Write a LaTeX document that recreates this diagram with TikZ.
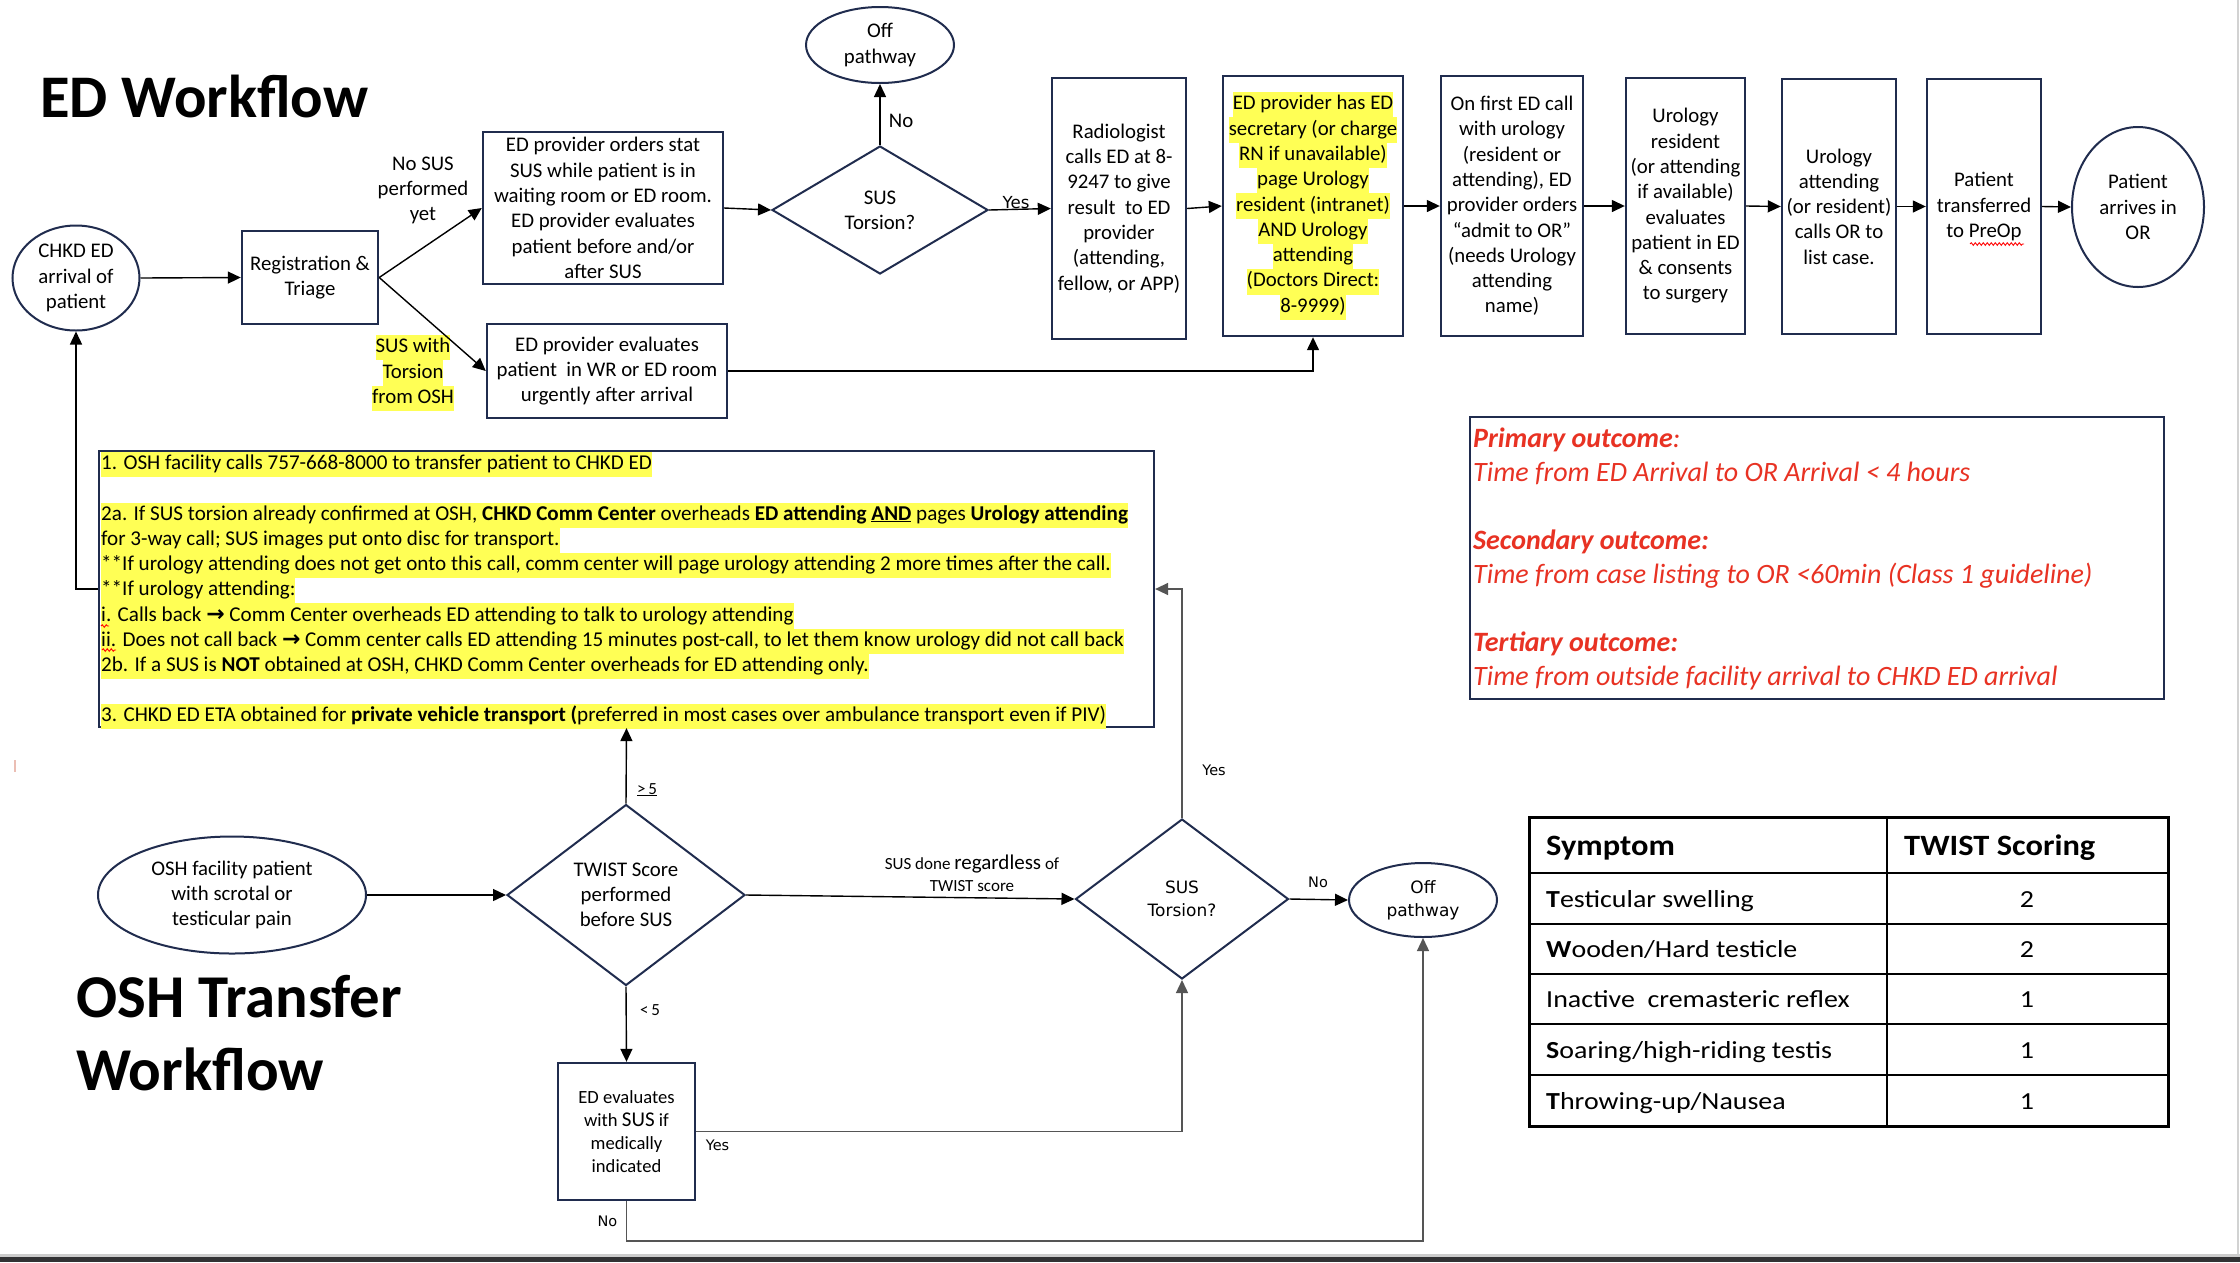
\documentclass[tikz,border=0pt]{standalone}
\usepackage{fontspec}
\usepackage{graphicx}
\setmainfont{Carlito}
\newfontfamily\tah{DejaVu Sans}
\usetikzlibrary{arrows.meta,shapes.geometric,decorations.pathmorphing}
\definecolor{navy}{RGB}{32,44,78}
\definecolor{hl}{RGB}{255,255,85}
\definecolor{outred}{RGB}{232,50,35}
\definecolor{lowgray}{RGB}{85,85,85}
\definecolor{barc}{RGB}{50,50,52}
\definecolor{tick}{RGB}{235,190,180}
\newcommand\fb{\fontsize{20.8}{25.3}\selectfont}
\newcommand\fbig{\fontsize{21.1}{25.2}\selectfont}
\newcommand\fse{\fontsize{18.6}{22.8}\selectfont}
\newcommand\fd{\tah\fontsize{17}{23}\selectfont}
\newcommand\fl{\tah\fontsize{14.5}{17}\selectfont}
\newcommand\flb{\tah\fontsize{16.6}{20}\selectfont}
\newcommand\fout{\fontsize{28}{34}\selectfont\itshape}
\newcommand\fth{\fontsize{29.5}{34}\selectfont\bfseries}
\newcommand\ftb{\fontsize{24.5}{30}\selectfont}
\newcommand\hlt[1]{{\setlength\fboxsep{0pt}\colorbox{hl}{\strut#1}}}
\newcommand\rarr{{\tah\bfseries\fontsize{22}{20}\selectfont →}}
\newcommand\wx[1]{\scalebox{1.14}[1]{#1}}
\newcommand\wh[1]{\scalebox{1.1}[1]{#1}}
\begin{document}
\begin{tikzpicture}[x=1pt,y=-1pt,
  box/.style={draw=navy, line width=2.4pt, rectangle, align=center, inner sep=0pt, font=\fb},
  ell/.style={draw=navy, line width=2pt, ellipse, align=center, inner sep=0pt, font=\fb},
  dia/.style={draw=navy, line width=2pt, diamond, align=center, inner sep=0pt, font=\fb},
  conn/.style={line width=1.4pt, -{Triangle[length=13pt,width=12pt]}},
  lowc/.style={draw=lowgray},
  lbl/.style={inner sep=0pt, align=center, font=\fb},
  wavy/.style={draw=red, line width=0.9pt, decorate, decoration={snake, amplitude=1.3pt, segment length=4pt}}]
\useasboundingbox (0,0) rectangle (2240,1262);
\fill[white] (0,0) rectangle (2240,1262);

% titles
\node[anchor=base west, inner sep=0pt, font=\fontsize{60.5}{70}\selectfont\bfseries] (t1) at (40,117) {ED Workflow};
\node[anchor=base west, inner sep=0pt, font=\fontsize{60.8}{73}\selectfont\bfseries] (t2) at (76,1017) {OSH Transfer};
\node[anchor=base west, inner sep=0pt, font=\fontsize{60.8}{73}\selectfont\bfseries] (t3) at (76,1090) {Workflow};

% top row
\node[ell, minimum width=127, minimum height=105] (chkd) at (76,278) {CHKD ED\\arrival of\\patient};
\node[box, minimum width=136, minimum height=93] (reg) at (310,277.5) {Registration \&\\Triage};
\node[box, minimum width=240, minimum height=152] (edord) at (603,208) {ED provider orders stat\\SUS while patient is in\\waiting room or ED room.\\ED provider evaluates\\patient before and/or\\after SUS};
\node[box, minimum width=240, minimum height=94] (edeval) at (607,371) {ED provider evaluates\\patient\ \ in WR or ED room\\urgently after arrival};
\node[dia, aspect=1.69, minimum width=216, minimum height=128] (sus1) at (880,210) {SUS\\Torsion?};
\node[ell, minimum width=148, minimum height=76] (off1) at (880,45) {Off\\pathway};
\node[box, minimum width=134, minimum height=261] (radio) at (1119,208.5) {Radiologist\\calls ED at 8-\\9247 to give\\result\ \ to ED\\provider\\(attending,\\fellow, or APP)};
\node[box, minimum width=180, minimum height=260] (sec) at (1313,206) {\hlt{ED provider has ED}\\\hlt{secretary (or charge}\\\hlt{RN if unavailable)}\\\hlt{page Urology}\\\hlt{resident (intranet)}\\\hlt{AND Urology}\\\hlt{attending}\\\hlt{(Doctors Direct:}\\\hlt{8-9999)}};
\node[box, minimum width=142, minimum height=260] (first) at (1512,206) {On first ED call\\with urology\\(resident or\\attending), ED\\provider orders\\“admit to OR”\\(needs Urology\\attending\\name)};
\node[box, minimum width=119, minimum height=256] (uror) at (1685.5,206) {Urology\\resident\\(or attending\\if available)\\evaluates\\patient in ED\\\& consents\\to surgery};
\node[box, minimum width=114, minimum height=255] (uroa) at (1839,206.5) {Urology\\attending\\(or resident)\\calls OR to\\list case.};
\node[box, minimum width=114, minimum height=255] (transf) at (1984,206.5) {Patient\\transferred\\to PreOp};
\node[ell, minimum width=132, minimum height=160] (orarr) at (2138,207) {Patient\\arrives in\\OR};

% top labels
\node[lbl] (nosus) at (423,190.5) {No SUS\\performed\\yet};
\node[lbl] (suswith) at (413,373) {\hlt{SUS with}\\\hlt{Torsion}\\\hlt{from OSH}};
\node[lbl, anchor=base] (no1) at (901,127) {No};
\node[lbl, anchor=base, font=\flb] (yes1) at (1016,208) {Yes};

% big instruction box
\node[draw=navy, line width=2.2pt, rectangle, minimum width=1055, minimum height=276, inner sep=0pt] (bigbox) at (626.5,589) {};
\node[anchor=north west, align=left, inner sep=0pt, font=\fbig] (bigtxt) at (101,452) {%
\hlt{1. OSH facility calls 757-668-8000 to transfer patient to CHKD ED}\\
\strut\\
\hlt{2a. If SUS torsion already confirmed at OSH, \textbf{CHKD Comm Center} overheads \textbf{ED attending \underline{AND}} pages \textbf{Urology attending}}\\
\hlt{for 3-way call; SUS images put onto disc for transport.}\\
\hlt{**If urology attending does not get onto this call, comm center will page urology attending 2 more times after the call.}\\
\hlt{**If urology attending:}\\
\hlt{i. Calls back \rarr{} Comm Center overheads ED attending to talk to urology attending}\\
\hlt{ii. Does not call back \rarr{} Comm center calls ED attending 15 minutes post-call, to let them know urology did not call back}\\
\hlt{2b. If a SUS is \textbf{NOT} obtained at OSH, CHKD Comm Center overheads for ED attending only.}\\
\strut\\
\hlt{3. CHKD ED ETA obtained for \textbf{private vehicle transport (}preferred in most cases over ambulance transport even if PIV)}};

% outcomes
\node[draw=navy, line width=2.2pt, rectangle, minimum width=694, minimum height=282, inner sep=0pt] (outbox) at (1817,558) {};
\node[anchor=north west, align=left, inner sep=0pt, font=\fout, text=outred] (outtxt) at (1473,423) {%
\strut\textbf{Primary outcome}:\\
Time from ED Arrival to OR Arrival < 4 hours\\
\strut\\
\textbf{Secondary outcome:}\\
Time from case listing to OR <60min (Class 1 guideline)\\
\strut\\
\textbf{Tertiary outcome:}\\
Time from outside facility arrival to CHKD ED arrival};

% lower flow
\node[ell, minimum width=268, minimum height=117] (osh) at (232,895) {OSH facility patient\\with scrotal or\\testicular pain};
\node[dia, aspect=1.315, minimum width=238, minimum height=181] (twist) at (626,895) {TWIST Score\\performed\\before SUS};
\node[box, minimum width=137, minimum height=137, font=\fse] (edsus) at (626.5,1131.5) {ED evaluates\\with {\fontsize{21}{22.8}\selectfont SUS} if\\medically\\indicated};
\node[dia, aspect=1.33, minimum width=213, minimum height=160, font=\fd] (sus2) at (1182,899) {SUS\\Torsion?};
\node[ell, minimum width=148, minimum height=74, font=\fd] (off2) at (1423,900) {Off\\pathway};
\coordinate (nocorner) at (626.5,1241);

% lower labels
\node[lbl, anchor=base, font=\fontsize{17}{20}\selectfont] (ge5) at (647,794) {\underline{>\,5}};
\node[lbl, anchor=base, font=\fontsize{17}{20}\selectfont] (lt5) at (650,1015) {<\,5};
\node[lbl, font=\fontsize{17}{22}\selectfont] (susdone) at (972,873) {SUS done {\fontsize{21}{22}\selectfont regardless} of\\TWIST score};
\node[lbl, anchor=base, font=\fl] (yes2) at (1214,775) {Yes};
\node[lbl, anchor=base, font=\fl] (no2) at (1318,887.5) {No};
\node[lbl, anchor=base, font=\fl] (yes3) at (717.5,1150) {Yes};
\node[lbl, anchor=base, font=\fl] (no3) at (607.5,1226) {No};

% connectors
\draw[conn] (chkd.east) -- (reg.west);
\draw[conn] (reg.east) -- (edord.west);
\draw[conn] (reg.east) -- (edeval.west);
\draw[conn] (edord.east) -- (sus1.west);
\draw[conn] (sus1.north) -- (off1.south);
\draw[conn] (sus1.east) -- (radio.west);
\draw[conn] (radio.east) -- (sec.west);
\draw[conn] (sec.east) -- (first.west);
\draw[conn] (first.east) -- (uror.west);
\draw[conn] (uror.east) -- (uroa.west);
\draw[conn] (uroa.east) -- (transf.west);
\draw[conn] (transf.east) -- (orarr.west);
\draw[conn] (edeval.east) -| (sec.south);
\draw[conn] (bigbox.west) -| (chkd.south);
\draw[conn, lowc] (sus2.north) |- (bigbox.east);
\draw[conn] (twist.north) -- (bigbox.south);
\draw[conn] (osh.east) -- (twist.west);
\draw[conn] (twist.east) -- (sus2.west);
\draw[conn] (twist.south) -- (edsus.north);
\draw[conn, lowc] (edsus.east) -| (sus2.south);
\draw[conn, lowc] (edsus.south) -- (nocorner) -| (off2.south);
\draw[conn] (sus2.east) -- (off2.west);

% TWIST table
\draw[line width=3pt] (1529,817) rectangle (2168,1126);
\draw[line width=2.5pt] (1887,817) -- (1887,1126);
\foreach \yy in {873,924,974,1024,1075} \draw[line width=2.5pt] (1529,\yy) -- (2168,\yy);
\node[anchor=base west, inner sep=0pt, font=\fth] (th1) at (1546,855) {\wh{Symptom}};
\node[anchor=base west, inner sep=0pt, font=\fth] (th2) at (1904,855) {\wh{TWIST Scoring}};
\node[anchor=base west, inner sep=0pt, font=\ftb] (r1) at (1546,907) {\wx{\textbf{T}esticular swelling}};
\node[anchor=base west, inner sep=0pt, font=\ftb] (r2) at (1546,957.5) {\wx{\textbf{W}ooden/Hard testicle}};
\node[anchor=base west, inner sep=0pt, font=\ftb] (r3) at (1546,1007.5) {\wx{Inactive\ \ cremasteric reflex}};
\node[anchor=base west, inner sep=0pt, font=\ftb] (r4) at (1546,1058) {\wx{\textbf{S}oaring/high-riding testis}};
\node[anchor=base west, inner sep=0pt, font=\ftb] (r5) at (1546,1109) {\wx{\textbf{T}hrowing-up/Nausea}};
\node[anchor=base, inner sep=0pt, font=\ftb] (s1) at (2027,907) {\wx{2}};
\node[anchor=base, inner sep=0pt, font=\ftb] (s2) at (2027,957.5) {\wx{2}};
\node[anchor=base, inner sep=0pt, font=\ftb] (s3) at (2027,1007.5) {\wx{1}};
\node[anchor=base, inner sep=0pt, font=\ftb] (s4) at (2027,1058) {\wx{1}};
\node[anchor=base, inner sep=0pt, font=\ftb] (s5) at (2027,1109) {\wx{1}};

% spell-check marks and page edges
\draw[wavy] (1970,244) -- (2024,244);
\draw[wavy] (101,626) -- (109,626);
\draw[wavy] (102,650) -- (116,650);
\fill[tick] (14,760) rectangle (16,772);
\draw[gray!35, line width=1.5pt] (2238,0) -- (2238,1254);
\fill[gray!40] (0,1254) rectangle (2240,1257);
\fill[barc] (0,1257) rectangle (2240,1262);
\end{tikzpicture}
\end{document}
